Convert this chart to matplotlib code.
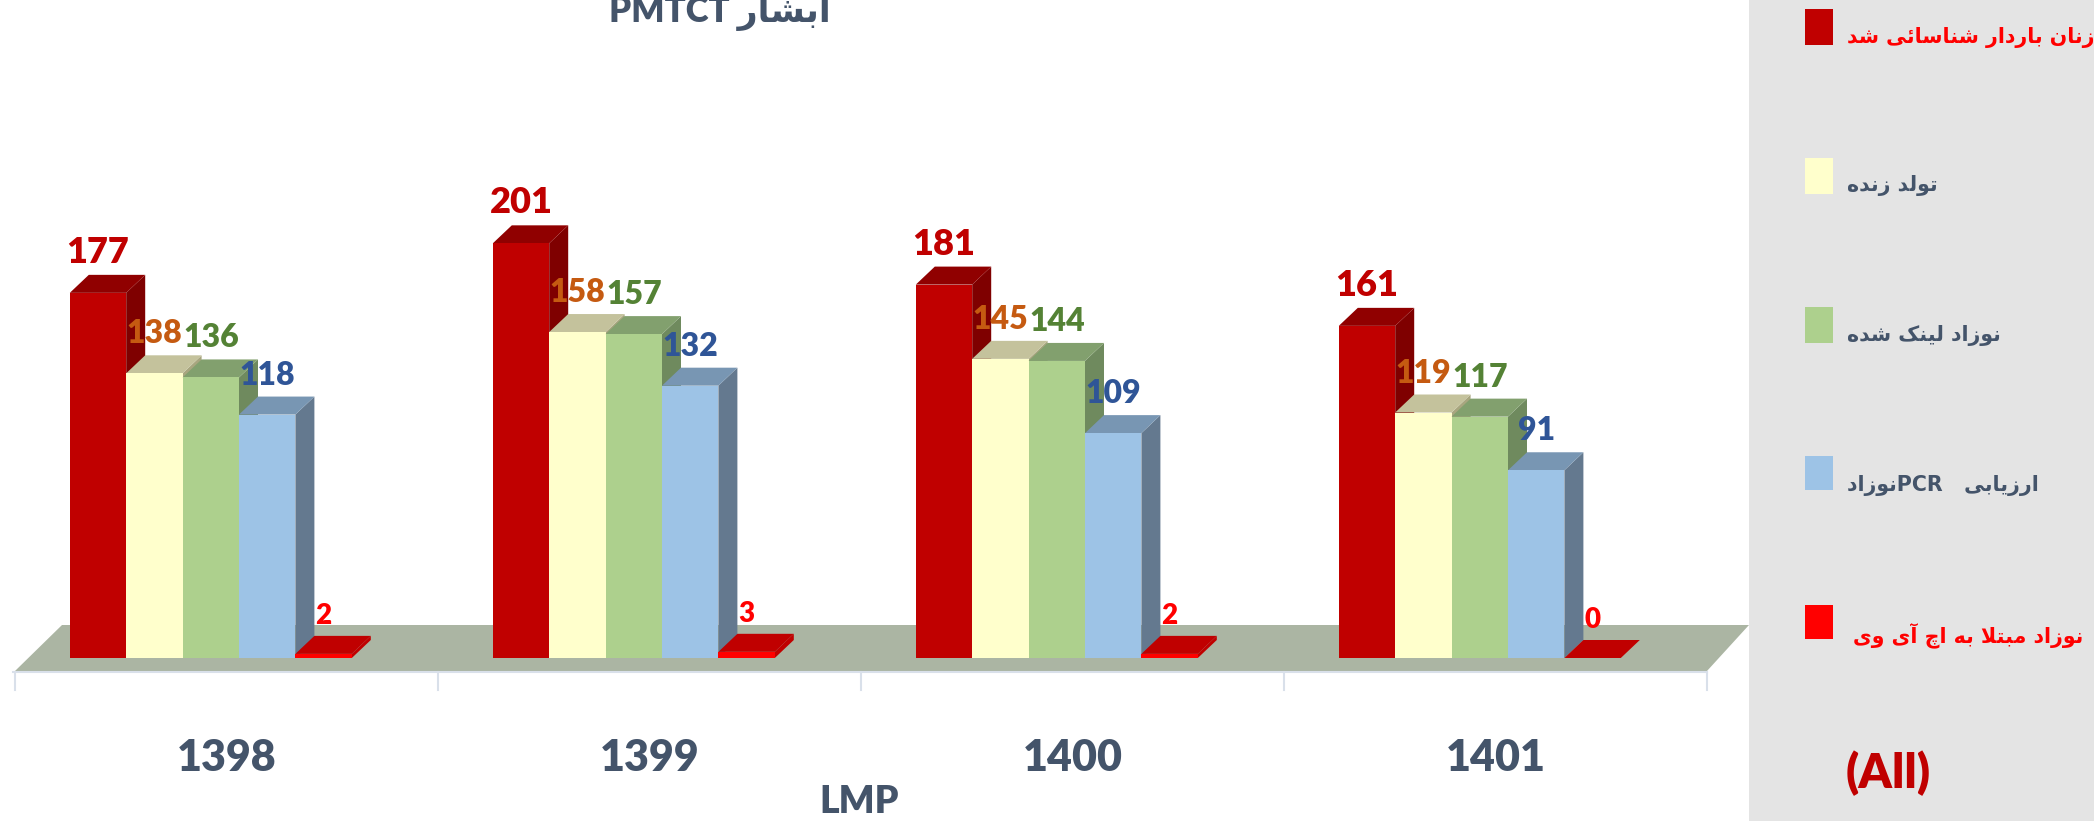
import re
import matplotlib
matplotlib.use('Agg')
import matplotlib.pyplot as plt
from matplotlib.patches import Polygon, Rectangle

# data
years = ['1398', '1399', '1400', '1401']
women = [177, 201, 181, 161]
births = [138, 158, 145, 119]
linked = [136, 157, 144, 117]
pcr = [118, 132, 109, 91]
infected = [2, 3, 2, 0]
series = [women, births, linked, pcr, infected]

legend_names = ['زنان باردار شناسائی شد', 'تولد زنده', 'نوزاد لینک شده',
                'ارزیابی   PCRنوزاد', 'نوزاد مبتلا به اچ آی وی']
title_text = 'ابشار PMTCT'

# colours: front, top, side
front = ['#C00000', '#FFFFCC', '#ADD08D', '#9DC3E6', '#FF0000']
top = ['#900000', '#C4C29C', '#82A06E', '#7896B3', '#C00000']
side = ['#7F0000', '#A8A67F', '#6F8A5E', '#64798F', '#C00000']
label_col = ['#C00000', '#C55A11', '#548235', '#2F5597', '#FF0000']
label_size = [26, 23, 23, 23, 20]
slate = '#44546A'
latin = 'Lato'

# matplotlib does no arabic shaping, so pick the joined forms by hand
forms = {'ا': 'ﺍﺎ', 'آ': 'ﺁﺂ', 'د': 'ﺩﺪ', 'ر': 'ﺭﺮ', 'ز': 'ﺯﺰ', 'و': 'ﻭﻮ',
         'ب': 'ﺏﺐﺑﺒ', 'پ': 'ﭖﭗﭘﭙ', 'ت': 'ﺕﺖﺗﺘ', 'چ': 'ﭺﭻﭼﭽ', 'س': 'ﺱﺲﺳﺴ',
         'ش': 'ﺵﺶﺷﺸ', 'ک': 'ﮎﮏﮐﮑ', 'ل': 'ﻝﻞﻟﻠ', 'م': 'ﻡﻢﻣﻤ', 'ن': 'ﻥﻦﻧﻨ',
         'ه': 'ﻩﻪﻫﻬ', 'ی': 'ﯼﯽﯾﯿ', 'ئ': 'ﺉﺊﺋﺌ'}


def shape_run(run):
    out = []
    i = 0
    while i < len(run):
        c = run[i]
        if c not in forms:
            out.append(c)
            i += 1
            continue
        prev = run[i - 1] if i > 0 else ' '
        joined_before = prev in forms and len(forms[prev]) == 4
        if c == 'ل' and i + 1 < len(run) and run[i + 1] == 'ا':
            out.append('ﻼ' if joined_before else 'ﻻ')
            i += 2
            continue
        nxt = run[i + 1] if i + 1 < len(run) else ' '
        joined_after = nxt in forms and len(forms[c]) == 4
        if joined_before and joined_after:
            out.append(forms[c][3])
        elif joined_after:
            out.append(forms[c][2])
        elif joined_before:
            out.append(forms[c][1])
        else:
            out.append(forms[c][0])
        i += 1
    return ''.join(out[::-1])


def fa(text):
    parts = re.split(r'([A-Za-z]+)', text)
    parts = [p if re.match(r'[A-Za-z]', p) else shape_run(p) for p in parts if p]
    return ''.join(parts[::-1])


# layout in pixels of the 2094x821 picture
W, H = 2094, 821
base_y = 658
px_unit = 2.063
group_w = 423
group_x0 = 226.5
bar_w = 56.4
dx, dy = 19, 18


def hx(p):
    return (p - group_x0) / group_w


def vy(p):
    return (base_y - p) / px_unit


fig = plt.figure(figsize=(W / 100, H / 100), dpi=100, facecolor='white')
ax = fig.add_axes([0, 0, 1, 1])
ax.set_xlim(hx(0), hx(W))
ax.set_ylim(vy(H), vy(0))
ax.axis('off')

# floor
ax.add_patch(Polygon([(hx(15), vy(671)), (hx(1707), vy(671)), (hx(1749), vy(625)), (hx(62), vy(625))],
                     closed=True, fc='#ABB5A3', ec='none', zorder=1))
ax.plot([hx(13), hx(1707)], [vy(672), vy(672)], color='#D9E0EA', lw=1.5, zorder=1)
for i in range(5):
    ax.plot([hx(15 + i * group_w)] * 2, [vy(672), vy(690)], color='#D9E0EA', lw=1.5, zorder=1)

ddx = dx / group_w
ddy = dy / px_unit
w = bar_w / group_w
offsets = [(-128.5 + k * bar_w) / group_w for k in range(5)]
z = 2
for g in range(len(years)):
    for k, vals in enumerate(series):
        v = vals[g]
        left = g + offsets[k] - w / 2
        right = left + w
        ax.bar(g + offsets[k], v, w, color=front[k], edgecolor='none', zorder=z + 2)
        ax.add_patch(Polygon([(right, 0), (right + ddx, ddy), (right + ddx, v + ddy), (right, v)],
                             closed=True, fc=side[k], ec='none', zorder=z))
        ax.add_patch(Polygon([(left, v), (right, v), (right + ddx, v + ddy), (left + ddx, v + ddy)],
                             closed=True, fc=top[k], ec='none', zorder=z + 1))
        z += 3
for g in range(len(years)):
    for k, vals in enumerate(series):
        ax.annotate(str(vals[g]), (g + offsets[k], vals[g]), xytext=(0, 30), textcoords='offset pixels',
                    ha='center', va='baseline', family=latin, weight='heavy',
                    fontsize=label_size[k], color=label_col[k], zorder=500)
    ax.text(g, vy(758), years[g], ha='center', va='center', family=latin, weight='heavy',
            fontsize=31, color=slate, zorder=500)

ax.text(hx(859), vy(802), 'LMP', ha='center', va='center', family=latin, weight='heavy',
        fontsize=27, color=slate, zorder=500)
ax.text(hx(720), vy(22), fa(title_text), ha='center', va='baseline', family=[latin, 'DejaVu Sans'],
        weight='heavy', fontsize=25, color=slate, zorder=500)

# legend panel
ax.add_patch(Rectangle((hx(1749), vy(H)), hx(W) - hx(1749), vy(0) - vy(H), fc='#E4E4E4', ec='none', zorder=400))
sq_y = [(9, 45), (158, 194), (307, 343), (456, 490), (605, 639)]
text_y = [38, 185, 335, 485, 636]
text_col = ['#FF0000', slate, slate, slate, '#FF0000']
text_x = [1847, 1847, 1847, 1847, 1853]
for k, name in enumerate(legend_names):
    ax.add_patch(Rectangle((hx(1805), vy(sq_y[k][1])), hx(1833) - hx(1805), vy(sq_y[k][0]) - vy(sq_y[k][1]),
                           fc=front[k], ec='none', zorder=401))
    ax.text(hx(text_x[k]), vy(text_y[k]), fa(name), ha='left', va='center', family='DejaVu Sans',
            weight='bold', fontsize=14.8, color=text_col[k], zorder=401)
ax.text(hx(1888), vy(773), '(All)', ha='center', va='center', family=latin, weight='heavy',
        fontsize=34, color='#C00000', zorder=401)

fig.savefig('out.png', dpi=100)
